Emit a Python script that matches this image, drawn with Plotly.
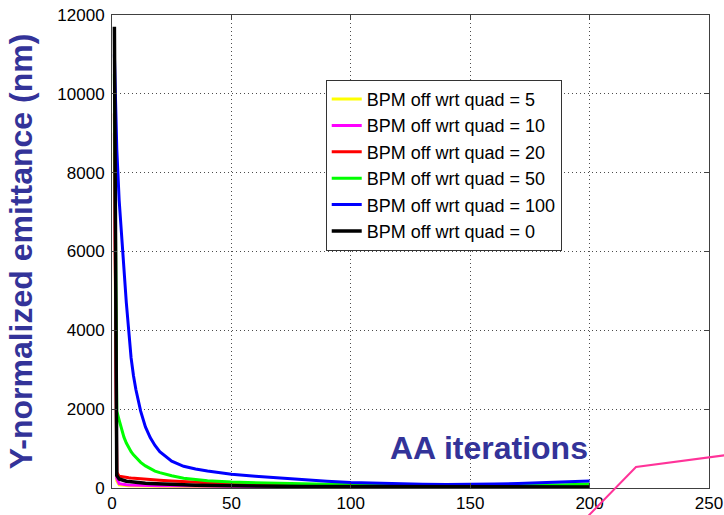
import plotly.graph_objects as go

# ---- data ----
iterations = [1, 2, 3, 4, 5, 6, 7, 8, 9, 10, 12, 14, 16, 18, 20, 25, 30, 35, 40,
              50, 60, 70, 80, 90, 100, 110, 120, 130, 140, 150, 160, 170, 180, 190, 200]

off_5 = [8500, 180, 80, 70, 64, 60, 57, 55, 53, 52, 50, 48, 47, 46, 45, 42, 40, 38, 36,
         33, 30, 28, 26, 25, 24, 23, 22, 21, 21, 20, 20, 20, 20, 20, 20]
off_10 = [9000, 250, 110, 95, 88, 82, 78, 75, 73, 71, 68, 66, 64, 62, 60, 56, 52, 49, 46,
          41, 37, 34, 32, 30, 28, 27, 26, 25, 24, 24, 23, 23, 23, 23, 23]
off_20 = [9500, 400, 300, 285, 275, 265, 258, 252, 246, 240, 230, 222, 214, 206, 198, 180, 162, 148, 135,
          112, 95, 82, 72, 64, 58, 54, 50, 47, 45, 43, 42, 42, 42, 43, 45]
off_50 = [10500, 1950, 1720, 1480, 1290, 1140, 1020, 920, 840, 770, 650, 560, 490, 430, 390, 310, 250, 215, 185,
          150, 130, 115, 105, 95, 85, 80, 75, 72, 70, 68, 68, 70, 75, 85, 100]
off_100 = [11000, 8600, 7300, 6400, 5650, 4700, 4000, 3300, 2850, 2500, 1950, 1550, 1280, 1080, 920, 680, 550, 480, 430,
           350, 300, 255, 210, 170, 140, 120, 105, 95, 90, 90, 100, 115, 135, 155, 180]
off_0 = [11700, 320, 230, 205, 185, 172, 162, 154, 147, 140, 130, 122, 115, 108, 102, 90, 80, 72, 66,
         56, 50, 45, 41, 38, 35, 33, 31, 30, 29, 28, 27, 27, 26, 26, 26]

series_names = ["BPM off wrt quad = 5", "BPM off wrt quad = 10", "BPM off wrt quad = 20",
                "BPM off wrt quad = 50", "BPM off wrt quad = 100", "BPM off wrt quad = 0"]
series_values = [off_5, off_10, off_20, off_50, off_100, off_0]
series_colors = ["#ffff00", "#ff00ff", "#ff0000", "#00ff00", "#0000ff", "#000000"]
series_widths = [3, 3, 3, 3, 3, 3.5]

x_ticks = [0, 50, 100, 150, 200, 250]
y_ticks = [0, 2000, 4000, 6000, 8000, 10000, 12000]

NAVY = "#333399"
FONT = "Liberation Sans, Arial, sans-serif"

fig = go.Figure()
for name, vals, col, w in zip(series_names, series_values, series_colors, series_widths):
    fig.add_trace(go.Scatter(x=iterations, y=vals, mode="lines", name=name,
                             line=dict(color=col, width=w)))

axis_common = dict(
    showline=True, linecolor="#404040", linewidth=1, mirror="ticks",
    ticks="inside", ticklen=5, tickcolor="#404040",
    showgrid=True, gridcolor="rgba(0,0,0,0.7)", gridwidth=1, griddash="1px,3px",
    zeroline=False, tickfont=dict(family=FONT, size=17, color="black"),
)

fig.update_xaxes(range=[0, 250], tickvals=x_ticks, **axis_common)
fig.update_yaxes(range=[0, 12000], tickvals=y_ticks, tickformat="d", ticklabelstandoff=3,
                 title=dict(text="<b>Y-normalized emittance (nm)</b>",
                            font=dict(family=FONT, size=32, color=NAVY), standoff=15),
                 **axis_common)

fig.update_layout(
    width=724, height=515,
    margin=dict(l=112, r=15, t=15, b=27, autoexpand=False),
    paper_bgcolor="white", plot_bgcolor="white",
    font=dict(family=FONT),
    legend=dict(x=0.358, y=0.863, xanchor="left", yanchor="top",
                bgcolor="white", bordercolor="#333333", borderwidth=1,
                font=dict(family=FONT, size=18, color="black")),
    annotations=[dict(text="<b>AA iterations</b>", xref="paper", yref="paper",
                      x=0.8007, y=0.084, xanchor="right", yanchor="middle",
                      showarrow=False, font=dict(family=FONT, size=32, color=NAVY))],
    shapes=[dict(type="path", xref="paper", yref="paper",
                 path="M 0.797 -0.06 L 0.8777 0.0444 L 1.03 0.0698",
                 line=dict(color="#ff3399", width=2))],
)

fig.write_html("out.html")
